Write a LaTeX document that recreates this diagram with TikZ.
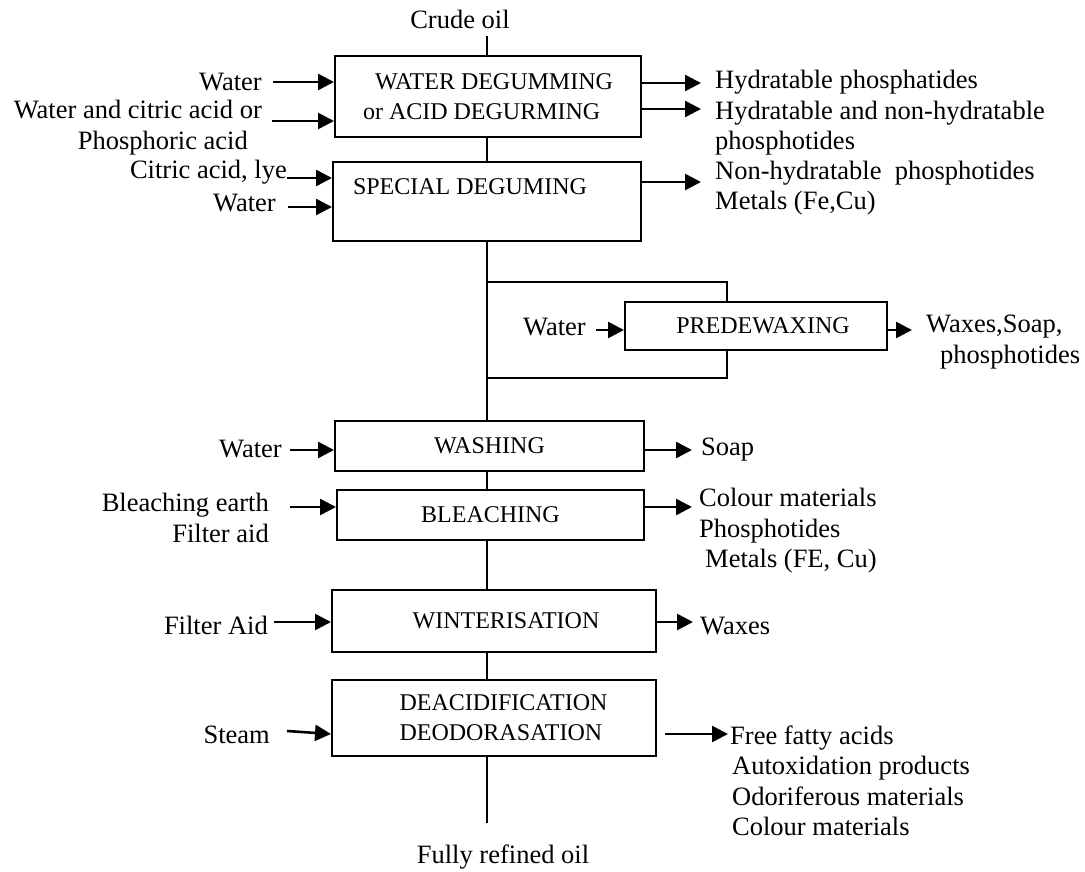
\documentclass[tikz,border=0pt]{standalone}
\usepackage{fontspec}
\setmainfont{Liberation Serif}
\usetikzlibrary{arrows.meta}
\begin{document}
\begin{tikzpicture}[x=1pt,y=-1pt,
  box/.style={draw, line width=2pt, inner sep=0pt, font=\fontsize{24}{30}\selectfont, align=left},
  lbl/.style={inner sep=0pt, font=\fontsize{26.5}{30.5}\selectfont},
  arr/.style={line width=2.6pt, -{Triangle[length=16pt,width=16pt]}},
  pipe/.style={line width=1.6pt}]
\useasboundingbox (0,0) rectangle (1085,872);
\fill[white] (0,0) rectangle (1085,872);

% process boxes
\node[box, minimum width=306pt, minimum height=81pt] (b1) at (488,96.5) {\hspace*{12pt}WATER DEGUMMING\\or ACID DEGURMING};
\node[box, minimum width=308pt, minimum height=79pt] (b2) at (487,201.5) {SPECIAL DEGUMING\hspace*{34pt}\\\mbox{}};
\node[box, minimum width=262pt, minimum height=48pt] (pre) at (756,326) {\hspace*{14pt}PREDEWAXING};
\node[box, minimum width=309pt, minimum height=50pt] (wash) at (489.5,446) {WASHING};
\node[box, minimum width=307pt, minimum height=50pt] (bleach) at (490.5,515) {BLEACHING};
\node[box, minimum width=324pt, minimum height=62pt] (wint) at (494,621) {\hspace*{24pt}WINTERISATION};
\node[box, minimum width=324pt, minimum height=76pt] (deac) at (494,718) {\hspace*{19pt}DEACIDIFICATION\\\hspace*{19pt}DEODORASATION};

% top and bottom
\node[lbl] (crude) at (460,19) {Crude oil};
\node[lbl] (fro) at (503,857) {Fully refined oil};
\coordinate (spine) at (487,0);
\coordinate (ctop) at (487,36);
\coordinate (cbot) at (487,823);
\draw[pipe] (ctop) -- (ctop |- b1.north);
\draw[pipe] (spine |- b1.south) -- (spine |- b2.north);
\draw[pipe] (spine |- b2.south) -- (spine |- wash.north);
\draw[pipe] (spine |- wash.south) -- (spine |- bleach.north);
\draw[pipe] (spine |- bleach.south) -- (spine |- wint.north);
\draw[pipe] (spine |- wint.south) -- (spine |- deac.north);
\draw[pipe] (spine |- deac.south) -- (cbot);

% bypass around predewaxing
\coordinate (byt) at (487,282);
\coordinate (byb) at (487,378);
\coordinate (bx) at (727,0);
\draw[pipe] (byt) -- (bx |- byt) -- (bx |- pre.north);
\draw[pipe] (byb) -- (bx |- byb) -- (bx |- pre.south);

% degumming inputs
\node[lbl, anchor=east] (in1) at (262,82) {Water};
\coordinate (a1) at (273,82);
\draw[arr] (a1) -- (a1 -| b1.west);
\node[lbl, anchor=east, align=right] (in2) at (262,127.5) {Water and citric acid or\\Phosphoric acid\hspace*{14pt}};
\coordinate (a2) at (272,121);
\draw[arr] (a2) -- (a2 -| b1.west);
\node[lbl, anchor=east] (in3) at (287,172) {Citric acid, lye};
\coordinate (a3) at (287,178);
\draw[arr] (a3) -- (a3 -| b2.west);
\node[lbl, anchor=east] (in4) at (276,203) {Water};
\coordinate (a4) at (288,207);
\draw[arr] (a4) -- (a4 -| b2.west);

% degumming outputs
\coordinate (o1) at (701,83);
\draw[arr] (o1 -| b1.east) -- (o1);
\node[lbl, anchor=west] (out1) at (715,82) {Hydratable phosphatides};
\coordinate (o2) at (701,109);
\draw[arr] (o2 -| b1.east) -- (o2);
\node[lbl, anchor=west, align=left] (out2) at (715,128) {Hydratable and non-hydratable\\phosphotides};
\coordinate (o3) at (701,182);
\draw[arr] (o3 -| b2.east) -- (o3);
\node[lbl, anchor=west, align=left] (out3) at (715,188) {Non-hydratable~ phosphotides\\Metals (Fe,Cu)};

% predewaxing
\node[lbl, anchor=east] (in5) at (586,327) {Water};
\coordinate (a5) at (596,330);
\draw[arr] (a5) -- (a5 -| pre.west);
\coordinate (o5) at (912,330);
\draw[arr] (o5 -| pre.east) -- (o5);
\node[lbl, anchor=west, align=left] (out5) at (926,342) {Waxes,Soap,\\\hspace*{14pt}phosphotides};

% washing
\node[lbl, anchor=east] (in6) at (282,449) {Water};
\coordinate (a6) at (290,450);
\draw[arr] (a6) -- (a6 -| wash.west);
\coordinate (o6) at (692,450);
\draw[arr] (o6 -| wash.east) -- (o6);
\node[lbl, anchor=west] (out6) at (701,450) {Soap};

% bleaching
\node[lbl, anchor=east, align=right] (in7) at (269,518) {Bleaching earth\\Filter aid};
\coordinate (a7) at (290,507);
\draw[arr] (a7) -- (a7 -| bleach.west);
\coordinate (o7) at (692,507);
\draw[arr] (o7 -| bleach.east) -- (o7);
\node[lbl, anchor=west, align=left] (out7) at (699,531) {Colour materials\\Phosphotides\\\hspace*{6pt}Metals (FE, Cu)};

% winterisation
\node[lbl, anchor=east] (in8) at (268,625) {Filter Aid};
\coordinate (a8) at (274,622);
\draw[arr] (a8) -- (a8 -| wint.west);
\coordinate (o8) at (693,622);
\draw[arr] (o8 -| wint.east) -- (o8);
\node[lbl, anchor=west] (out8) at (700,626) {Waxes};

% deacidification
\node[lbl, anchor=east] (in9) at (270,735) {Steam};
\coordinate (a9) at (287,731);
\coordinate (a9h) at (0,734);
\draw[arr] (a9) -- (a9h -| deac.west);
\coordinate (o9s) at (665,734);
\coordinate (o9) at (728,734);
\draw[arr] (o9s) -- (o9);
\node[lbl, anchor=west, align=left] (out9) at (730,781) {Free fatty acids\\\hspace*{2pt}Autoxidation products\\\hspace*{2pt}Odoriferous materials\\\hspace*{2pt}Colour materials};
\end{tikzpicture}
\end{document}
